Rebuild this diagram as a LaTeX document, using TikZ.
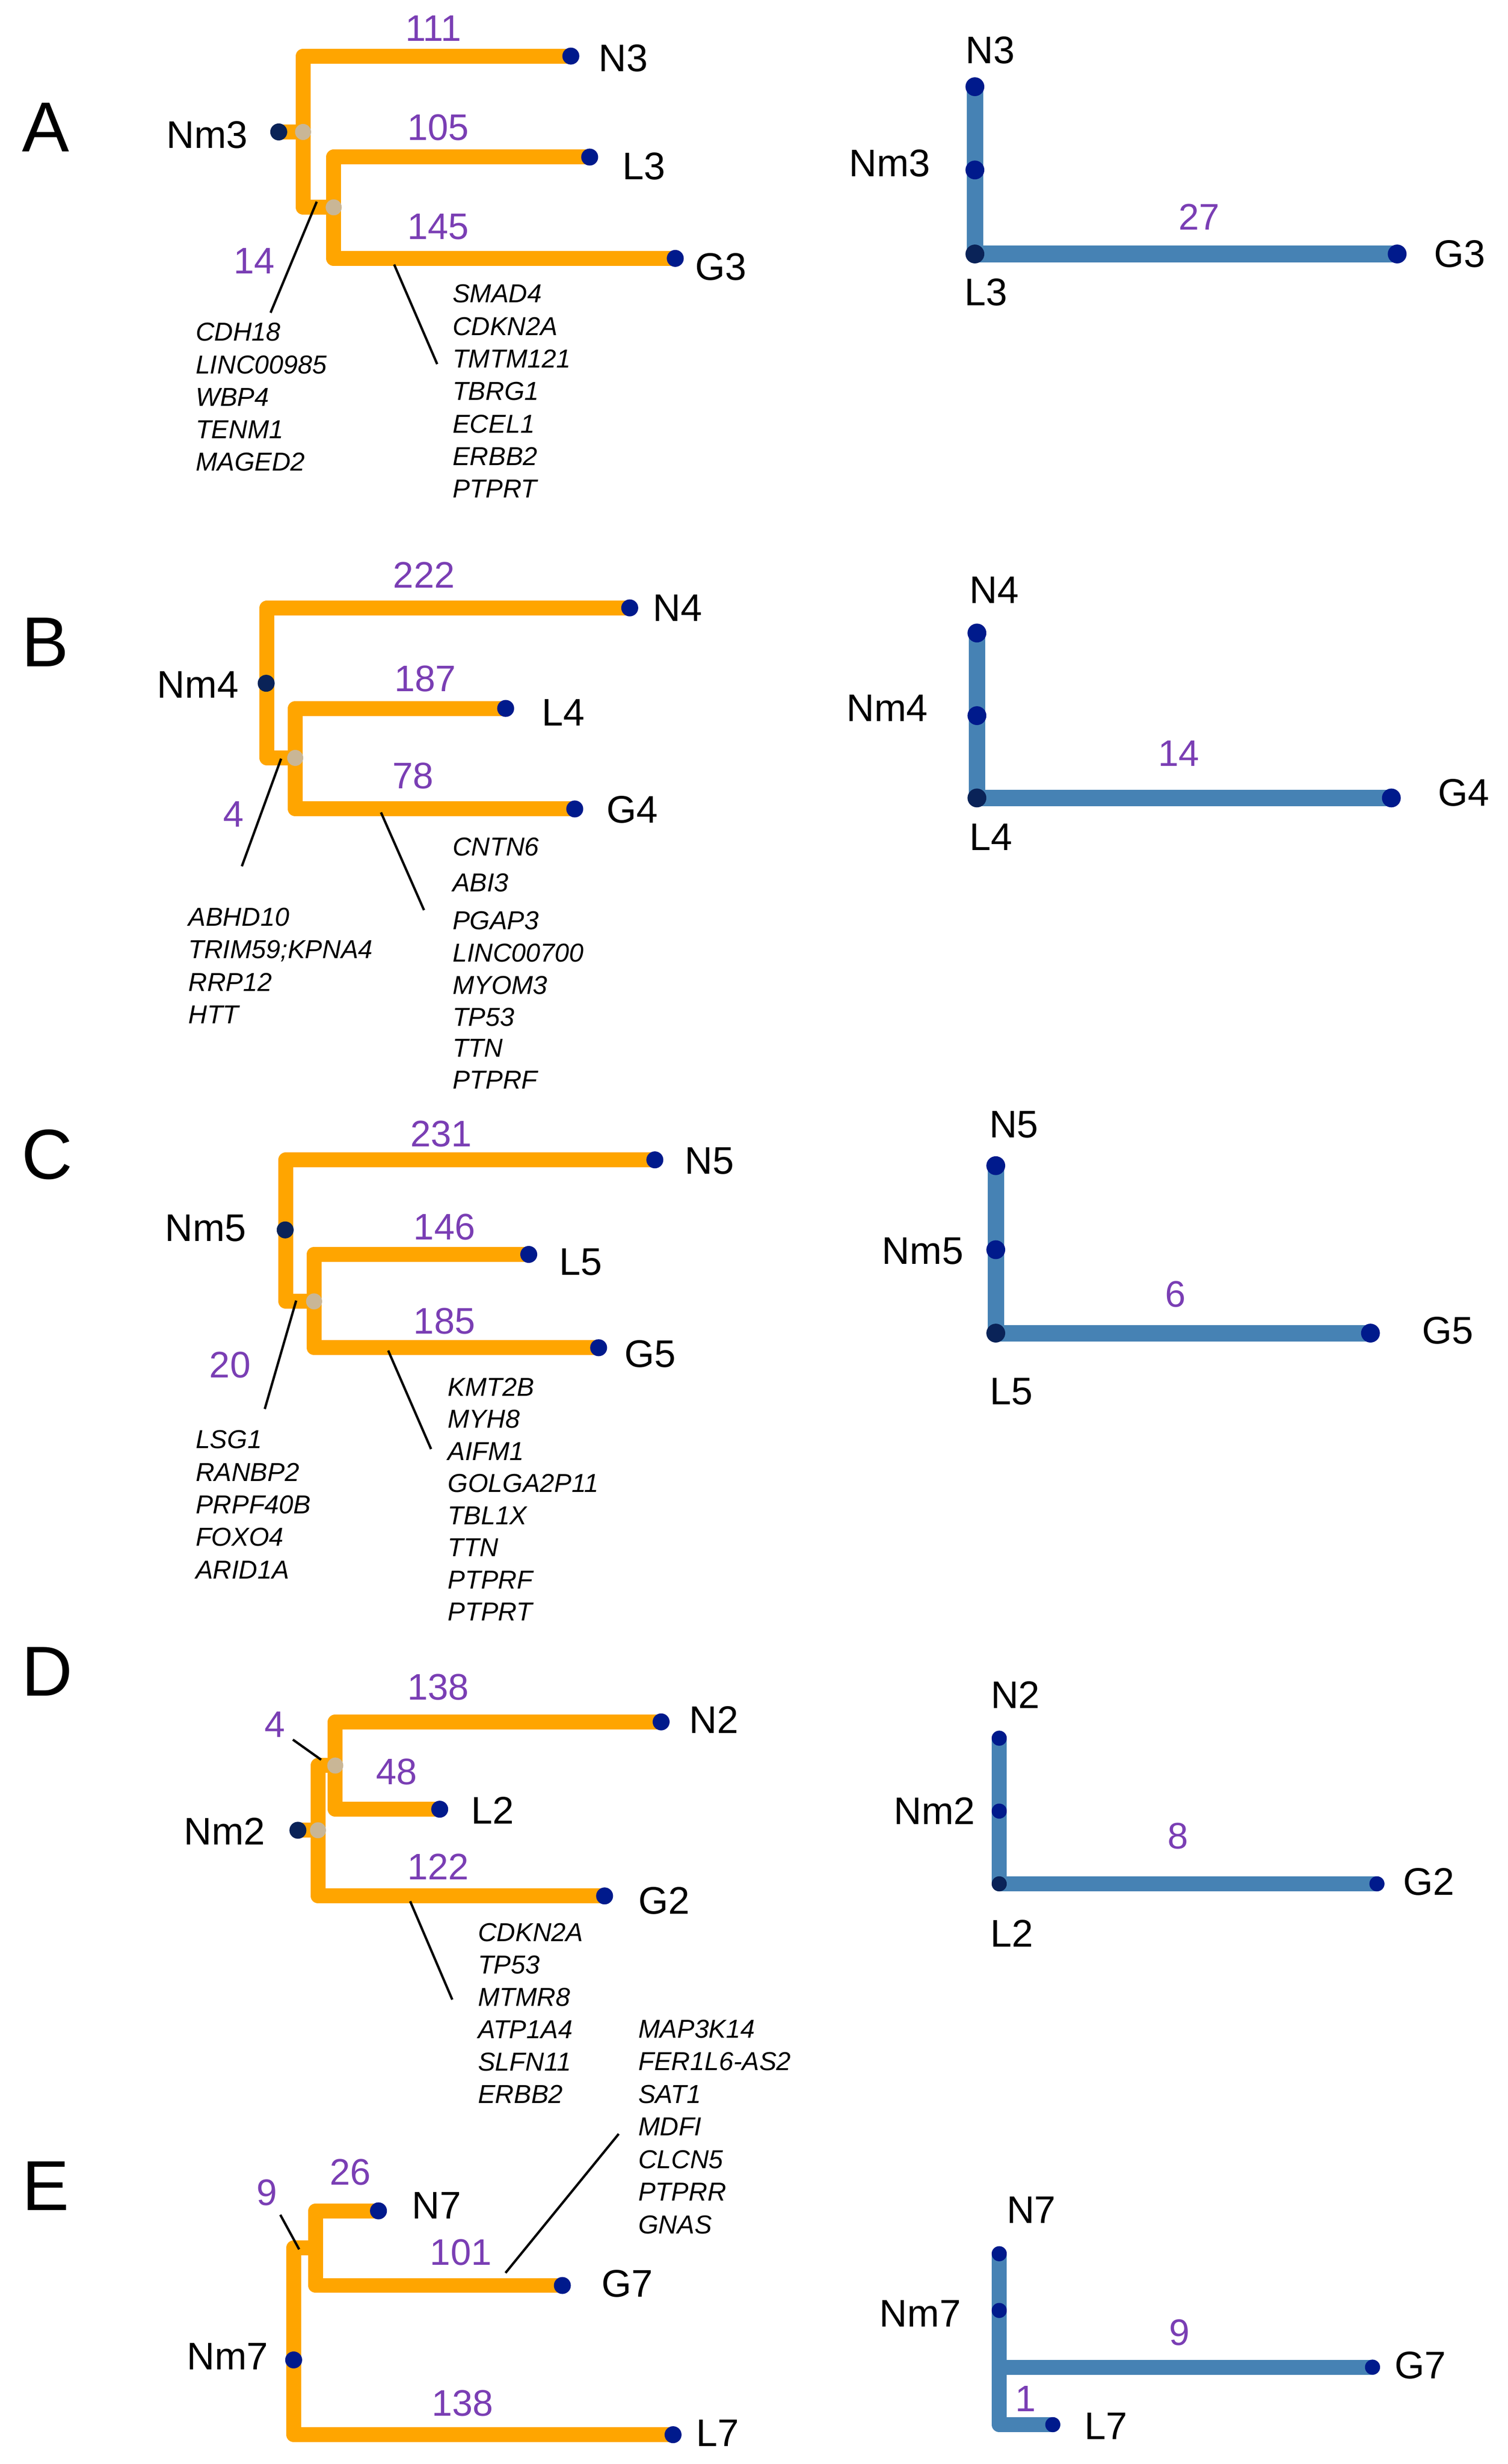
\documentclass[tikz,border=0pt]{standalone}
\usepackage{fontspec}
\setmainfont{Liberation Sans}
\usetikzlibrary{backgrounds}
\definecolor{orng}{RGB}{255,165,0}
\definecolor{stblue}{RGB}{70,130,180}
\definecolor{dotblue}{RGB}{0,26,140}
\definecolor{dotnavy}{RGB}{10,35,88}
\definecolor{tanc}{RGB}{201,182,150}
\definecolor{numpurple}{RGB}{122,62,180}
\begin{document}
\begin{tikzpicture}[x=1pt,y=-1pt,
  obranch/.style={draw=orng, line width=9.5pt, line cap=round, line join=round},
  bbranch/.style={draw=stblue, line width=10.5pt, line cap=round, line join=round},
  bbranchs/.style={draw=stblue, line width=9.5pt, line cap=round, line join=round},
  leafdot/.style={circle, fill=dotblue, inner sep=0pt, minimum size=10.8pt},
  rootdot/.style={circle, fill=dotnavy, inner sep=0pt, minimum size=10.8pt},
  tandot/.style={circle, fill=tanc, inner sep=0pt, minimum size=10.2pt},
  rdot/.style={circle, fill=dotblue, inner sep=0pt, minimum size=12pt},
  rdotdark/.style={circle, fill=dotnavy, inner sep=0pt, minimum size=12pt},
  sdot/.style={circle, fill=dotblue, inner sep=0pt, minimum size=9.6pt},
  sdotdark/.style={circle, fill=dotnavy, inner sep=0pt, minimum size=9.6pt},
  nlbl/.style={font=\fontsize{24.5}{29}\selectfont, inner sep=0pt, text=black},
  numlbl/.style={font=\fontsize{23.5}{28}\selectfont, inner sep=0pt, text=numpurple},
  panellbl/.style={font=\fontsize{45}{54}\selectfont, inner sep=0pt},
  gene/.style={font=\fontsize{16.5}{20}\selectfont\itshape, anchor=west, inner sep=0pt, text height=11.8pt, text depth=0pt},
  leader/.style={draw=black, line width=1.5pt}
]
\useasboundingbox (0,0) rectangle (960,1568.67);
\begin{pgfonlayer}{background}
\fill[white] (0,0) rectangle (960,1568.67);
\end{pgfonlayer}

%================ Panel A =================
\node[panellbl] (A) at (29,81) {A};
\node[rootdot] (A-Nm) at (177.5,84) {};
\node[tandot] (A-t1) at (193,84) {};
\node[tandot] (A-t2) at (212.5,132) {};
\node[leafdot] (A-N) at (363.5,35.7) {};
\node[leafdot] (A-L) at (375.5,100) {};
\node[leafdot] (A-G) at (430,164.5) {};
\coordinate (A-c1) at (193,35.7);
\coordinate (A-c2) at (193,132);
\coordinate (A-c3) at (212.5,100);
\coordinate (A-c4) at (212.5,164.5);
\begin{pgfonlayer}{background}
\draw[obranch] (A-Nm.center) -- (A-t1.center);
\draw[obranch] (A-N.center) -- (A-c1) -- (A-c2) -- (A-t2.center);
\draw[obranch] (A-L.center) -- (A-c3) -- (A-c4) -- (A-G.center);
\end{pgfonlayer}
\node[nlbl] (A-Nmt) at (132,86) {Nm3};
\node[nlbl] (A-Nt) at (397,37) {N3};
\node[nlbl] (A-Lt) at (410,106) {L3};
\node[nlbl] (A-Gt) at (459,170) {G3};
\node[numlbl] (A-n1) at (276,18) {111};
\node[numlbl] (A-n2) at (279,81) {105};
\node[numlbl] (A-n3) at (279,144.5) {145};
\node[numlbl] (A-n4) at (162,166) {14};
\coordinate (A-l1a) at (201.7,128.4);
\coordinate (A-l1b) at (172.3,199.1);
\coordinate (A-l2a) at (251,168.4);
\coordinate (A-l2b) at (278.4,231.8);
\draw[leader] (A-l1a) -- (A-l1b);
\draw[leader] (A-l2a) -- (A-l2b);
\foreach \g [count=\i from 0] in {CDH18,LINC00985,WBP4,TENM1,MAGED2}
  \node[gene] (A-ga\i) at (124.4,{211.2+20.7*\i}) {\g};
\foreach \g [count=\i from 0] in {SMAD4,CDKN2A,TMTM121,TBRG1,ECEL1,ERBB2,PTPRT}
  \node[gene] (A-gb\i) at (288,{186.8+20.7*\i}) {\g};

% A right
\node[rdot] (AR-N) at (620.8,55.2) {};
\node[rdot] (AR-Nm) at (620.8,108.2) {};
\node[rdotdark] (AR-L) at (620.8,161.7) {};
\node[rdot] (AR-G) at (889.7,161.7) {};
\begin{pgfonlayer}{background}
\draw[bbranch] (AR-N.center) -- (AR-Nm.center) -- (AR-L.center) -- (AR-G.center);
\end{pgfonlayer}
\node[nlbl] (AR-Nt) at (630.5,32) {N3};
\node[nlbl] (AR-Nmt) at (566.5,104) {Nm3};
\node[nlbl] (AR-Lt) at (628,186) {L3};
\node[nlbl] (AR-Gt) at (929.5,161.7) {G3};
\node[numlbl] (AR-n) at (763.5,138) {27};

%================ Panel B =================
\node[panellbl] (B) at (28.7,409) {B};
\node[rootdot] (B-Nm) at (169.5,435) {};
\node[tandot] (B-t2) at (188,482.5) {};
\node[leafdot] (B-N) at (401,387) {};
\node[leafdot] (B-L) at (322,451) {};
\node[leafdot] (B-G) at (366,515) {};
\coordinate (B-c1) at (170,387);
\coordinate (B-c2) at (170,482.5);
\coordinate (B-c3) at (188,451);
\coordinate (B-c4) at (188,515);
\begin{pgfonlayer}{background}
\draw[obranch] (B-N.center) -- (B-c1) -- (B-c2) -- (B-t2.center);
\draw[obranch] (B-L.center) -- (B-c3) -- (B-c4) -- (B-G.center);
\end{pgfonlayer}
\node[nlbl] (B-Nmt) at (126,436) {Nm4};
\node[nlbl] (B-Nt) at (431.5,387) {N4};
\node[nlbl] (B-Lt) at (358.6,453.6) {L4};
\node[nlbl] (B-Gt) at (402.6,515.6) {G4};
\node[numlbl] (B-n1) at (270,366) {222};
\node[numlbl] (B-n2) at (270.7,432) {187};
\node[numlbl] (B-n3) at (263,494) {78};
\node[numlbl] (B-n4) at (148.6,518.4) {4};
\coordinate (B-l1a) at (179,483);
\coordinate (B-l1b) at (154,551.5);
\coordinate (B-l2a) at (242.6,517.2);
\coordinate (B-l2b) at (270,579.4);
\draw[leader] (B-l1a) -- (B-l1b);
\draw[leader] (B-l2a) -- (B-l2b);
\foreach \g [count=\i from 0] in {ABHD10,TRIM59;KPNA4,RRP12,HTT}
  \node[gene] (B-ga\i) at (119.8,{583.5+20.8*\i}) {\g};
\foreach \g/\yy [count=\i from 0] in {CNTN6/539,ABI3/561.8,PGAP3/585.8,LINC00700/606.3,MYOM3/626.9,TP53/647.4,TTN/666.9,PTPRF/687.4}
  \node[gene] (B-gb\i) at (288,\yy) {\g};

% B right
\node[rdot] (BR-N) at (622.1,403) {};
\node[rdot] (BR-Nm) at (622.1,455.6) {};
\node[rdotdark] (BR-L) at (622.1,508) {};
\node[rdot] (BR-G) at (886,508) {};
\begin{pgfonlayer}{background}
\draw[bbranch] (BR-N.center) -- (BR-Nm.center) -- (BR-L.center) -- (BR-G.center);
\end{pgfonlayer}
\node[nlbl] (BR-Nt) at (633,375.7) {N4};
\node[nlbl] (BR-Nmt) at (565,450.7) {Nm4};
\node[nlbl] (BR-Lt) at (631,533) {L4};
\node[nlbl] (BR-Gt) at (932,504.7) {G4};
\node[numlbl] (BR-n) at (750.6,479.7) {14};

%================ Panel C =================
\node[panellbl] (C) at (30,735) {C};
\node[rootdot] (C-Nm) at (181.6,783) {};
\node[tandot] (C-t2) at (200,828.5) {};
\node[leafdot] (C-N) at (417,738.4) {};
\node[leafdot] (C-L) at (336.7,798.6) {};
\node[leafdot] (C-G) at (381.2,858) {};
\coordinate (C-c1) at (182,738.4);
\coordinate (C-c2) at (182,828.5);
\coordinate (C-c3) at (200,798.6);
\coordinate (C-c4) at (200,858);
\begin{pgfonlayer}{background}
\draw[obranch] (C-N.center) -- (C-c1) -- (C-c2) -- (C-t2.center);
\draw[obranch] (C-L.center) -- (C-c3) -- (C-c4) -- (C-G.center);
\end{pgfonlayer}
\node[nlbl] (C-Nmt) at (131,782) {Nm5};
\node[nlbl] (C-Nt) at (451.7,739) {N5};
\node[nlbl] (C-Lt) at (369.7,803.5) {L5};
\node[nlbl] (C-Gt) at (414,862) {G5};
\node[numlbl] (C-n1) at (281,722) {231};
\node[numlbl] (C-n2) at (283,781) {146};
\node[numlbl] (C-n3) at (283,841) {185};
\node[numlbl] (C-n4) at (146.5,869) {20};
\coordinate (C-l1a) at (188.6,828);
\coordinate (C-l1b) at (168.6,897);
\coordinate (C-l2a) at (247.2,859.8);
\coordinate (C-l2b) at (274.5,922.5);
\draw[leader] (C-l1a) -- (C-l1b);
\draw[leader] (C-l2a) -- (C-l2b);
\foreach \g [count=\i from 0] in {LSG1,RANBP2,PRPF40B,FOXO4,ARID1A}
  \node[gene] (C-ga\i) at (124.4,{916.3+20.7*\i}) {\g};
\foreach \g [count=\i from 0] in {KMT2B,MYH8,AIFM1,GOLGA2P11,TBL1X,TTN,PTPRF,PTPRT}
  \node[gene] (C-gb\i) at (285,{882.9+20.43*\i}) {\g};

% C right
\node[rdot] (CR-N) at (634.1,742.1) {};
\node[rdot] (CR-Nm) at (634.1,795.6) {};
\node[rdotdark] (CR-L) at (634.1,848.7) {};
\node[rdot] (CR-G) at (872.7,848.7) {};
\begin{pgfonlayer}{background}
\draw[bbranch] (CR-N.center) -- (CR-Nm.center) -- (CR-L.center) -- (CR-G.center);
\end{pgfonlayer}
\node[nlbl] (CR-Nt) at (645.6,716) {N5};
\node[nlbl] (CR-Nmt) at (587.6,796.6) {Nm5};
\node[nlbl] (CR-Lt) at (644,885.8) {L5};
\node[nlbl] (CR-Gt) at (922,847) {G5};
\node[numlbl] (CR-n) at (748.5,824) {6};

%================ Panel D =================
\node[panellbl] (D) at (30,1064) {D};
\node[rootdot] (D-Nm) at (189.7,1165.2) {};
\node[tandot] (D-t1) at (202.5,1165.2) {};
\node[tandot] (D-t2) at (213.5,1124) {};
\node[leafdot] (D-N) at (421,1096.2) {};
\node[leafdot] (D-L) at (280,1151.8) {};
\node[leafdot] (D-G) at (385,1207) {};
\coordinate (D-c1) at (202.5,1124);
\coordinate (D-c2) at (202.5,1207);
\coordinate (D-c3) at (213.5,1096.2);
\coordinate (D-c4) at (213.5,1151.8);
\begin{pgfonlayer}{background}
\draw[obranch] (D-Nm.center) -- (D-t1.center);
\draw[obranch] (D-t2.center) -- (D-c1) -- (D-c2) -- (D-G.center);
\draw[obranch] (D-N.center) -- (D-c3) -- (D-c4) -- (D-L.center);
\end{pgfonlayer}
\node[nlbl] (D-Nmt) at (143,1166) {Nm2};
\node[nlbl] (D-Nt) at (454.6,1095) {N2};
\node[nlbl] (D-Lt) at (313.6,1152.6) {L2};
\node[nlbl] (D-Gt) at (423,1210) {G2};
\node[numlbl] (D-n1) at (279,1074) {138};
\node[numlbl] (D-n2) at (252.6,1128) {48};
\node[numlbl] (D-n3) at (279,1188.5) {122};
\node[numlbl] (D-n4) at (175,1098) {4};
\coordinate (D-l1a) at (186.5,1107.5);
\coordinate (D-l1b) at (204.5,1120.3);
\coordinate (D-l2a) at (261.2,1210.4);
\coordinate (D-l2b) at (288,1273);
\draw[leader] (D-l1a) -- (D-l1b);
\draw[leader] (D-l2a) -- (D-l2b);
\foreach \g [count=\i from 0] in {CDKN2A,TP53,MTMR8,ATP1A4,SLFN11,ERBB2}
  \node[gene] (D-ga\i) at (304.2,{1230+20.6*\i}) {\g};

% D right
\node[sdot] (DR-N) at (636.3,1106.6) {};
\node[sdot] (DR-Nm) at (636.3,1153) {};
\node[sdotdark] (DR-L) at (636.3,1199.3) {};
\node[sdot] (DR-G) at (876.8,1199.3) {};
\begin{pgfonlayer}{background}
\draw[bbranchs] (DR-N.center) -- (DR-Nm.center) -- (DR-L.center) -- (DR-G.center);
\end{pgfonlayer}
\node[nlbl] (DR-Nt) at (646.6,1079) {N2};
\node[nlbl] (DR-Nmt) at (595,1153) {Nm2};
\node[nlbl] (DR-Lt) at (644.4,1231) {L2};
\node[nlbl] (DR-Gt) at (910,1198) {G2};
\node[numlbl] (DR-n) at (750,1169) {8};

%================ Panel E =================
\node[panellbl] (E) at (29,1391.6) {E};
\node[leafdot] (E-Nm) at (187,1502.4) {};
\node[leafdot] (E-N) at (241,1407.5) {};
\node[leafdot] (E-G) at (358.1,1455) {};
\node[leafdot] (E-L) at (428.6,1550) {};
\coordinate (E-j) at (201,1431);
\coordinate (E-c1) at (187,1431);
\coordinate (E-c2) at (187,1550);
\coordinate (E-c3) at (201,1407.5);
\coordinate (E-c4) at (201,1455);
\begin{pgfonlayer}{background}
\draw[obranch] (E-j) -- (E-c1) -- (E-c2) -- (E-L.center);
\draw[obranch] (E-N.center) -- (E-c3) -- (E-c4) -- (E-G.center);
\end{pgfonlayer}
\node[nlbl] (E-Nmt) at (145,1500) {Nm7};
\node[nlbl] (E-Nt) at (278,1404) {N7};
\node[nlbl] (E-Gt) at (399.5,1454) {G7};
\node[nlbl] (E-Lt) at (457,1549) {L7};
\node[numlbl] (E-n1) at (223,1383) {26};
\node[numlbl] (E-n2) at (170,1396) {9};
\node[numlbl] (E-n3) at (293.5,1434) {101};
\node[numlbl] (E-n4) at (294.5,1530) {138};
\coordinate (E-l1a) at (178.5,1410);
\coordinate (E-l1b) at (190.5,1432);
\coordinate (E-l2a) at (321.9,1447);
\coordinate (E-l2b) at (394,1358.5);
\draw[leader] (E-l1a) -- (E-l1b);
\draw[leader] (E-l2a) -- (E-l2b);
\foreach \g [count=\i from 0] in {MAP3K14,FER1L6-AS2,SAT1,MDFI,CLCN5,PTPRR,GNAS}
  \node[gene] (E-ga\i) at (406.3,{1291.5+20.75*\i}) {\g};

% E right
\node[sdot] (ER-N) at (636.3,1434.8) {};
\node[sdot] (ER-Nm) at (636.3,1470.9) {};
\node[sdot] (ER-G) at (874,1507) {};
\node[sdot] (ER-L) at (670.4,1543.6) {};
\coordinate (ER-j) at (636.3,1507);
\coordinate (ER-c) at (636.3,1543.6);
\begin{pgfonlayer}{background}
\draw[bbranchs] (ER-N.center) -- (ER-Nm.center) -- (ER-c) -- (ER-L.center);
\draw[bbranchs] (ER-j) -- (ER-G.center);
\end{pgfonlayer}
\node[nlbl] (ER-Nt) at (656.7,1407) {N7};
\node[nlbl] (ER-Nmt) at (586,1473) {Nm7};
\node[nlbl] (ER-Gt) at (904.5,1506) {G7};
\node[nlbl] (ER-Lt) at (704.3,1544.5) {L7};
\node[numlbl] (ER-n1) at (751,1485) {9};
\node[numlbl] (ER-n2) at (653,1527) {1};
\end{tikzpicture}
\end{document}
